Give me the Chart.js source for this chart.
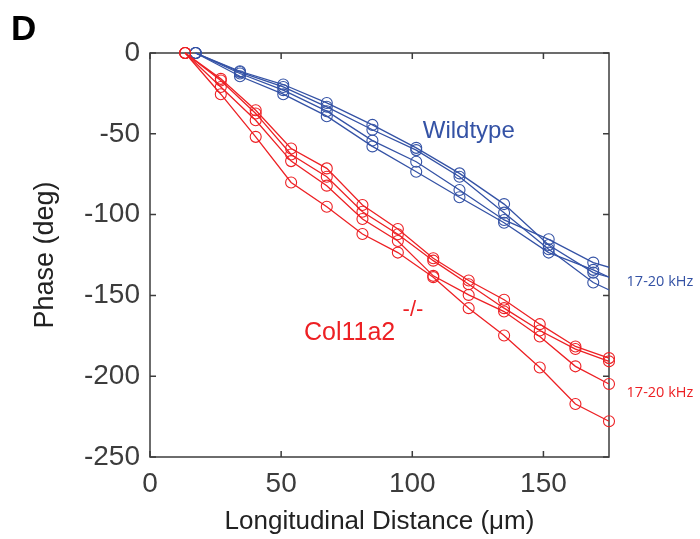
<!DOCTYPE html>
<html>
<head>
<meta charset="utf-8">
<script src="https://cdn.jsdelivr.net/npm/chart.js@4.4.0/dist/chart.umd.min.js"></script>
<style>
    html, body { margin: 0; padding: 0; background: #ffffff; }
    #wrap { width: 700px; height: 539px; }
</style>
</head>
<body>
<div id="wrap"><canvas id="phase_chart" width="700" height="539"></canvas></div>
<script>
// Longitudinal distance (um) of each measurement point, wildtype and Col11a2 -/-.
// The last wildtype point sits just past the axis end, so its line runs to the edge.
var wildtypeDistance = [17.4, 34.3, 50.8, 67.4, 84.8, 101.5, 118, 135, 152, 169, 186];
var mutantDistance = [13.4, 27, 40.3, 53.8, 67.4, 81, 94.5, 108, 121.5, 135, 148.6, 162.2, 175];

// Phase (deg) for the four wildtype cochleae.
var wildtypePhase1 = [0, -11.3, -19.5, -30.9, -44.5, -58.7, -74.5, -93.5, -118.8, -135.9, -143.9];
var wildtypePhase2 = [0, -11.8, -21, -33.3, -47.5, -60.1, -76.6, -98.8, -121.4, -142, -155];
var wildtypePhase3 = [0, -12.7, -23, -36, -54.2, -67.3, -84.8, -103.3, -115.3, -129.7, -137.9];
var wildtypePhase4 = [0, -14.4, -25.5, -39.1, -57.8, -73.5, -89.3, -105, -123.5, -134.2, -146.9];

// Phase (deg) for the four Col11a2 -/- cochleae.
var mutantPhase1 = [0, -16, -35.4, -59.1, -71.4, -94.1, -108.9, -127, -140.8, -152.7, -167.8, -181.6, -188.8];
var mutantPhase2 = [0, -17, -37.4, -62.8, -76.6, -98.2, -112.2, -128.5, -143.1, -157.9, -171.7, -183.2, -190.8];
var mutantPhase3 = [0, -21, -41.6, -66.9, -82.1, -102.7, -116.3, -137.9, -149.7, -160, -175.4, -193.9, -204.8];
var mutantPhase4 = [0, -25.5, -51.9, -80.1, -95.1, -112, -123.5, -138.7, -157.9, -174.8, -194.6, -217.2, -227.9];

// Tick labels on both axes.
var xTickValues = [0, 50, 100, 150];
var yTickValues = [0, -50, -100, -150, -200, -250];

var blue = 'rgb(52, 82, 165)';
var red = 'rgb(237, 32, 36)';
var axisColor = '#3c3c3c';
var fontFamily = '"Liberation Sans", Arial, Helvetica, sans-serif';
var chart;

// Builds the {x, y} points of one line from a distance list and a phase list.
function toPoints(distance, phase) {
    var points = [];
    for (var i = 0; i < phase.length; i++) {
        points.push({x: distance[i], y: phase[i]});
    }
    return points;
}

function makeDataset(distance, phase, color, clip) {
    return {
        data: toPoints(distance, phase),
        borderColor: color,
        backgroundColor: 'rgba(0,0,0,0)',
        borderWidth: 1.3,
        pointRadius: 5.5,
        pointBorderWidth: 1.1,
        pointBorderColor: color,
        pointBackgroundColor: 'rgba(0,0,0,0)',
        tension: 0,
        clip: clip
    };
}

// Draws the MATLAB style box with ticks pointing inward on all four sides.
var boxPlugin = {
    id: 'matlabBox',
    beforeDatasetsDraw: function (chart) {
        var ctx = chart.ctx;
        var area = chart.chartArea;
        var xs = chart.scales.x;
        var ys = chart.scales.y;
        var tickLen = 6;
        ctx.save();
        ctx.strokeStyle = axisColor;
        ctx.lineWidth = 1.5;
        ctx.strokeRect(area.left, area.top, area.right - area.left, area.bottom - area.top);
        ctx.beginPath();
        for (var i = 0; i < xs.ticks.length; i++) {
            var px = xs.getPixelForValue(xs.ticks[i].value);
            ctx.moveTo(px, area.bottom);
            ctx.lineTo(px, area.bottom - tickLen);
            ctx.moveTo(px, area.top);
            ctx.lineTo(px, area.top + tickLen);
        }
        for (var j = 0; j < ys.ticks.length; j++) {
            var py = ys.getPixelForValue(ys.ticks[j].value);
            ctx.moveTo(area.left, py);
            ctx.lineTo(area.left + tickLen, py);
            ctx.moveTo(area.right, py);
            ctx.lineTo(area.right - tickLen, py);
        }
        ctx.stroke();
        ctx.restore();
    }
};

// Writes the group names, frequency notes and the panel letter.
var labelPlugin = {
    id: 'groupLabels',
    afterDatasetsDraw: function (chart) {
        var ctx = chart.ctx;
        var xs = chart.scales.x;
        var ys = chart.scales.y;
        ctx.save();
        ctx.textAlign = 'left';
        ctx.textBaseline = 'alphabetic';

        ctx.fillStyle = blue;
        ctx.font = '24px ' + fontFamily;
        ctx.fillText('Wildtype', xs.getPixelForValue(104), ys.getPixelForValue(-52.9));

        ctx.fillStyle = red;
        ctx.font = '25px ' + fontFamily;
        ctx.fillText('Col11a2', xs.getPixelForValue(58.7), ys.getPixelForValue(-177.9));
        ctx.font = '22px ' + fontFamily;
        ctx.fillText('-/-', xs.getPixelForValue(96.3), ys.getPixelForValue(-162.8));

        ctx.textBaseline = 'middle';
        ctx.font = '14.5px "Open Sans", ' + fontFamily;
        ctx.fillStyle = blue;
        ctx.fillText('17-20 kHz', xs.getPixelForValue(181.7), ys.getPixelForValue(-141.4));
        ctx.fillStyle = red;
        ctx.fillText('17-20 kHz', xs.getPixelForValue(181.7), ys.getPixelForValue(-210.2));

        ctx.fillStyle = '#000000';
        ctx.textBaseline = 'alphabetic';
        ctx.font = 'bold 35px ' + fontFamily;
        ctx.fillText('D', 11, 40);
        ctx.restore();
    }
};

function createChart() {
    var ctx = document.getElementById('phase_chart').getContext('2d');
    var openRight = {left: false, top: false, right: 0, bottom: false};
    chart = new Chart(ctx, {
        type: 'line',
        data: {
            datasets: [
                makeDataset(mutantDistance, mutantPhase1, red, false),
                makeDataset(mutantDistance, mutantPhase2, red, false),
                makeDataset(mutantDistance, mutantPhase3, red, false),
                makeDataset(mutantDistance, mutantPhase4, red, false),
                makeDataset(wildtypeDistance, wildtypePhase1, blue, openRight),
                makeDataset(wildtypeDistance, wildtypePhase2, blue, openRight),
                makeDataset(wildtypeDistance, wildtypePhase3, blue, openRight),
                makeDataset(wildtypeDistance, wildtypePhase4, blue, openRight)
            ]
        },
        options: {
            responsive: false,
            animation: false,
            devicePixelRatio: 1,
            layout: {padding: {left: 0, top: 53, right: 91, bottom: 0}},
            plugins: {legend: {display: false}, tooltip: {enabled: false}},
            events: [],
            scales: {
                x: {
                    type: 'linear',
                    min: 0,
                    max: 175,
                    grid: {display: false, drawTicks: false},
                    border: {display: false},
                    afterBuildTicks: function (scale) {
                        scale.ticks = xTickValues.map(function (v) { return {value: v}; });
                    },
                    afterFit: function (scale) { scale.height = 82; },
                    ticks: {
                        color: axisColor,
                        padding: 10,
                        maxRotation: 0,
                        font: {family: fontFamily, size: 28}
                    },
                    title: {
                        display: true,
                        text: 'Longitudinal Distance (\u03bcm)',
                        color: '#222222',
                        padding: {top: 0, bottom: 2},
                        font: {family: fontFamily, size: 26}
                    }
                },
                y: {
                    type: 'linear',
                    min: -250,
                    max: 0,
                    grid: {display: false, drawTicks: false},
                    border: {display: false},
                    afterBuildTicks: function (scale) {
                        scale.ticks = yTickValues.map(function (v) { return {value: v}; });
                    },
                    afterFit: function (scale) { scale.width = 150; },
                    ticks: {
                        color: axisColor,
                        padding: 10,
                        font: {family: fontFamily, size: 28}
                    },
                    title: {
                        display: true,
                        text: 'Phase (deg)',
                        color: '#222222',
                        padding: {top: 29, bottom: 0},
                        font: {family: fontFamily, size: 27}
                    }
                }
            }
        },
        plugins: [boxPlugin, labelPlugin]
    });
}

createChart();
</script>
</body>
</html>
